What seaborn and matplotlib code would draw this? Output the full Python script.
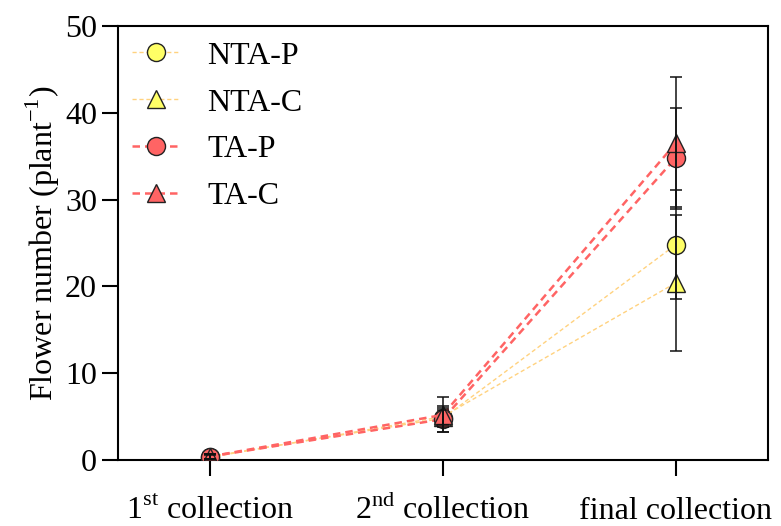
import matplotlib
matplotlib.use("Agg")
import matplotlib.pyplot as plt
from matplotlib.lines import Line2D
import seaborn as sns
import pandas as pd

# Collection stages and mean flower numbers per plant
stages = ["1$^{\\mathrm{st}}$ collection", "2$^{\\mathrm{nd}}$ collection", "final collection"]
series = ["NTA-P", "NTA-C", "TA-P", "TA-C"]
nta_p = [0.4, 4.8, 24.8]
nta_c = [0.3, 5.0, 20.4]
ta_p = [0.4, 4.7, 34.8]
ta_c = [0.4, 5.2, 36.5]
nta_p_err = [0.3, 1.0, 6.3]
nta_c_err = [0.3, 1.0, 7.8]
ta_p_err = [0.3, 1.5, 5.7]
ta_c_err = [0.3, 2.0, 7.6]

means = {"NTA-P": nta_p, "NTA-C": nta_c, "TA-P": ta_p, "TA-C": ta_c}
errs = {"NTA-P": nta_p_err, "NTA-C": nta_c_err, "TA-P": ta_p_err, "TA-C": ta_c_err}

rows = []
for s in series:
    for i, st in enumerate(stages):
        rows.append({"series": s, "pos": i, "stage": st,
                     "mean": means[s][i], "err": errs[s][i]})
df = pd.DataFrame(rows)

sns.set_theme(style="ticks")
plt.rcParams["font.family"] = ["Liberation Serif", "DejaVu Serif"]
plt.rcParams["mathtext.fontset"] = "custom"
plt.rcParams["mathtext.rm"] = "Liberation Serif"
plt.rcParams["text.color"] = "black"
plt.rcParams["axes.labelcolor"] = "black"
plt.rcParams["xtick.color"] = "black"
plt.rcParams["ytick.color"] = "black"

FS = 23

yellow = "#FFFF66"
red = "#FF6464"
light_orange = "#FFD27F"

style = {
    "NTA-P": dict(line=light_orange, face=yellow, marker="o", lw=1.0, ms=13),
    "NTA-C": dict(line=light_orange, face=yellow, marker="^", lw=1.0, ms=13),
    "TA-P": dict(line=red, face=red, marker="o", lw=1.8, ms=13),
    "TA-C": dict(line=red, face=red, marker="^", lw=1.8, ms=13),
}

fig = plt.figure(figsize=(7.81, 5.26), dpi=100)
ax = fig.add_axes([0.151, 0.1255, 0.832, 0.825])

handles = []
for s in series:
    st = style[s]
    d = df[df["series"] == s]
    sns.lineplot(data=d, x="pos", y="mean", ax=ax, color=st["line"],
                 linestyle=(0, (3, 2)), linewidth=st["lw"], marker=st["marker"],
                 markersize=st["ms"], markerfacecolor=st["face"],
                 markeredgecolor="#222222", markeredgewidth=1.0,
                 legend=False, zorder=3)
    ax.errorbar(d["pos"], d["mean"], yerr=d["err"], fmt="none",
                ecolor="#111111", elinewidth=1.1, capsize=4.5, capthick=1.1,
                zorder=5)
    handles.append(Line2D([], [], color=st["line"], linestyle=(0, (3, 2)),
                          linewidth=st["lw"], marker=st["marker"],
                          markersize=st["ms"], markerfacecolor=st["face"],
                          markeredgecolor="#222222", markeredgewidth=1.0,
                          label=s))

ax.set_xlim(-0.395, 2.395)
ax.set_ylim(0, 50)
ax.set_xticks(range(len(stages)))
ax.set_xticklabels(stages)
ax.set_yticks([0, 10, 20, 30, 40, 50])
ax.set_xlabel("")
ax.set_ylabel("Flower number (plant$^{-1}$)", fontsize=FS, labelpad=2)

for sp in ax.spines.values():
    sp.set_linewidth(1.5)
    sp.set_color("black")
    sp.set_visible(True)
ax.tick_params(axis="both", direction="out", length=11.5, width=1.5,
               labelsize=FS, colors="black")
ax.tick_params(axis="y", pad=3.5)
# put all stage labels on a shared baseline
ax.tick_params(axis="x", pad=31)
for lbl in ax.get_xticklabels():
    lbl.set_verticalalignment("baseline")

leg = ax.legend(handles=handles, loc="upper left", frameon=False,
                fontsize=FS, handlelength=1.5, handletextpad=0.85,
                labelspacing=0.55, borderaxespad=0.0, borderpad=0.0,
                bbox_to_anchor=(0.022, 0.965))
for t in leg.get_texts():
    t.set_color("black")

fig.savefig("out.png", dpi=100)
